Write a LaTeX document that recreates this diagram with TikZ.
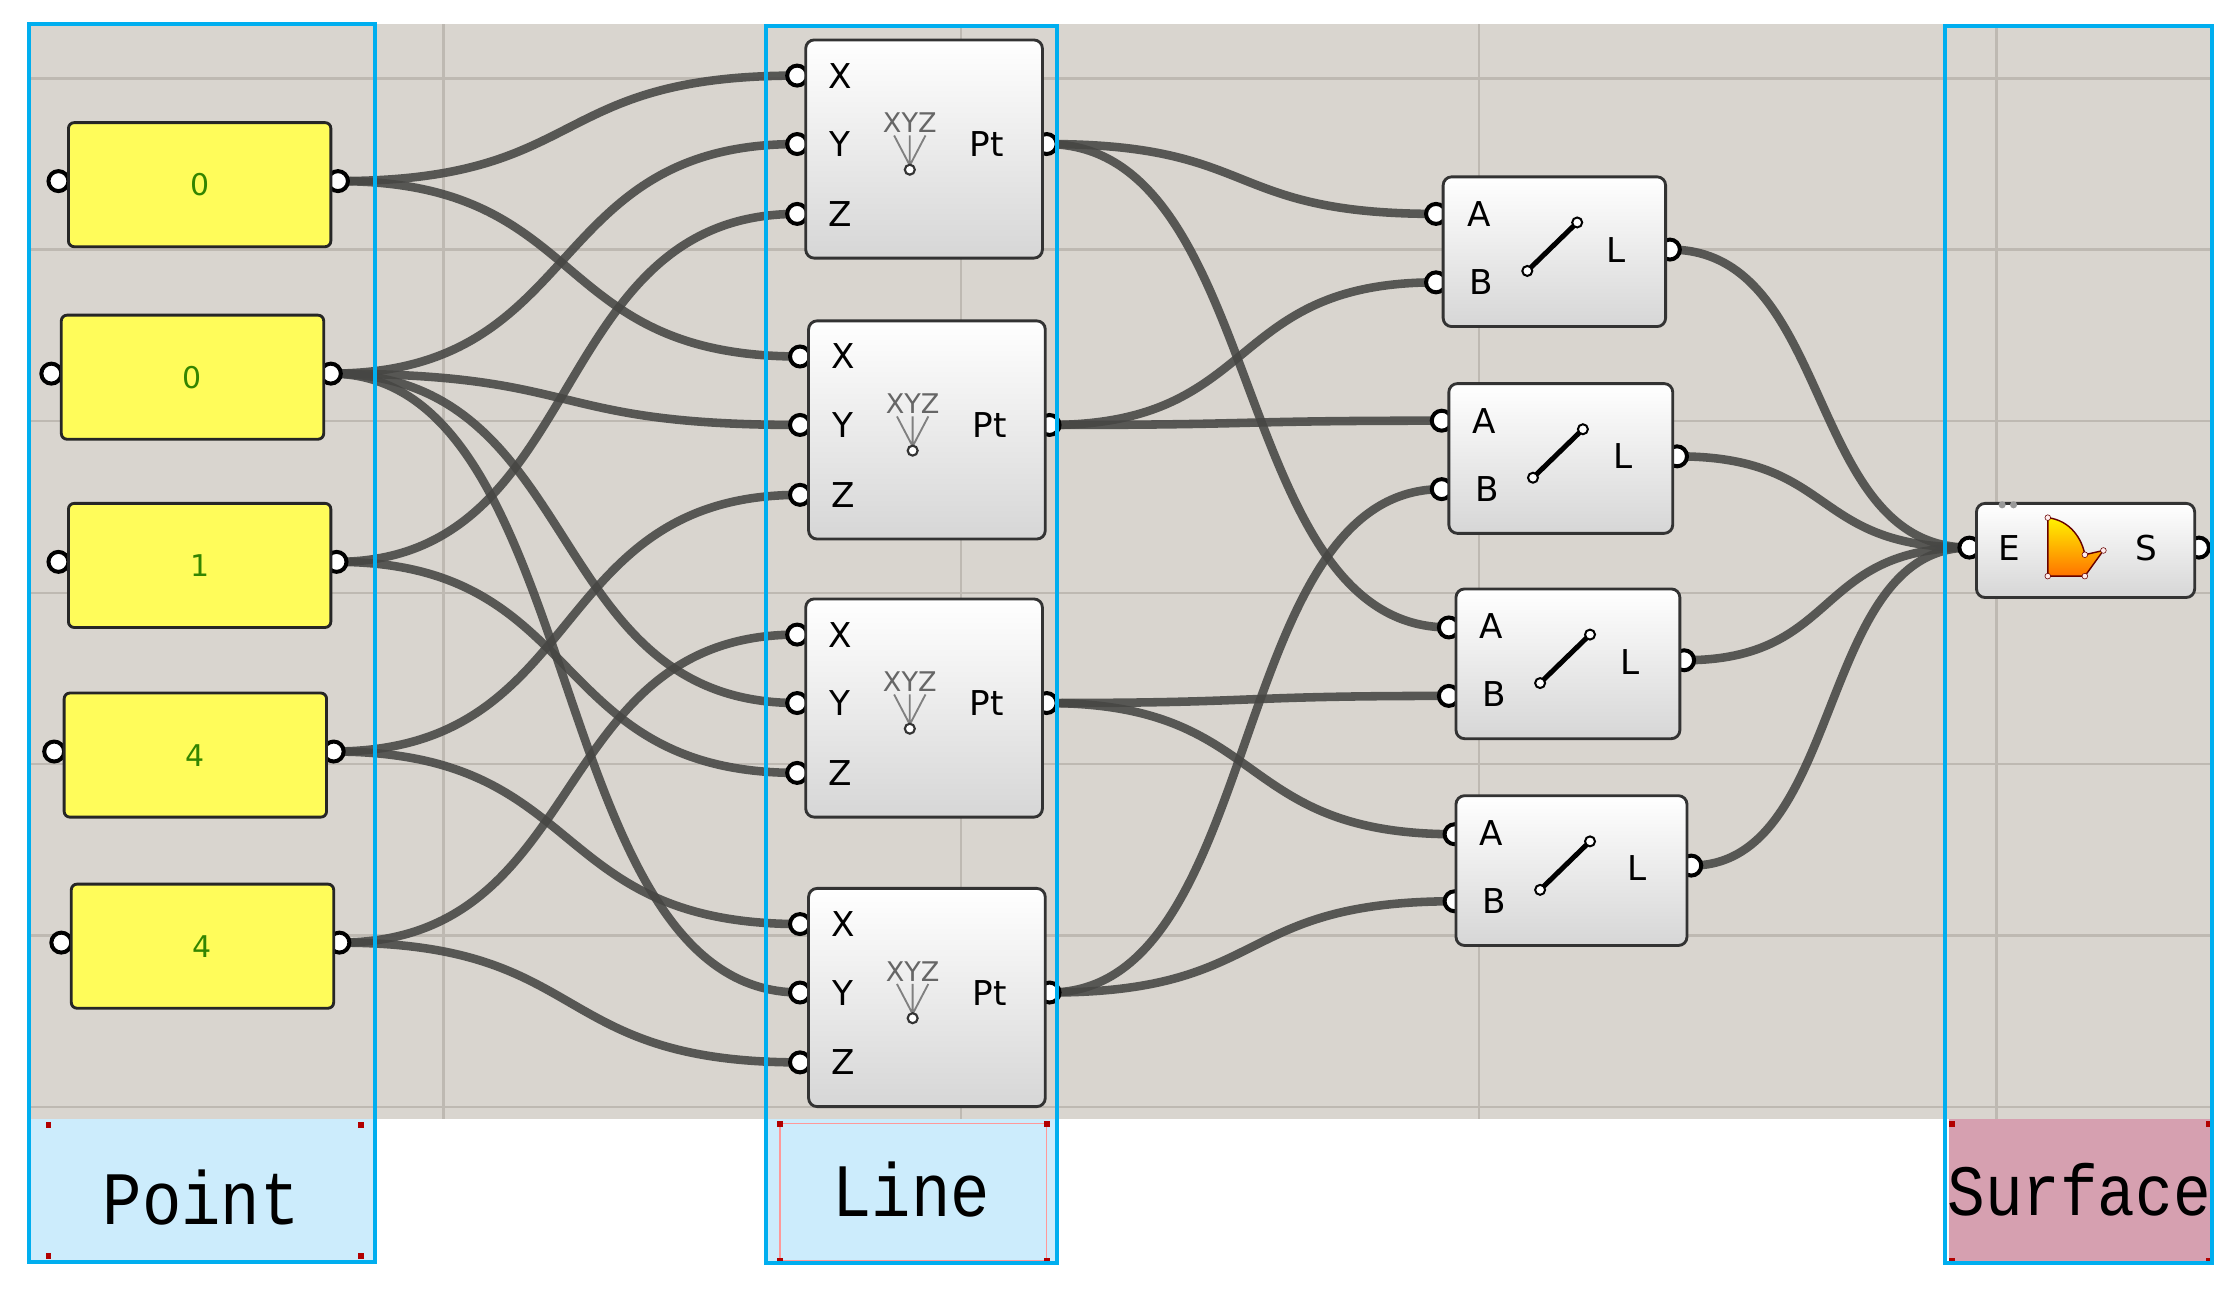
\documentclass[tikz,border=0pt]{standalone}
\usetikzlibrary{calc}
\usepackage{fontspec}
\setmainfont{DejaVu Sans}
\newfontfamily\labfont{Liberation Mono}
\definecolor{canvas}{RGB}{217,213,207}
\definecolor{gridc}{RGB}{190,185,178}
\definecolor{gblue}{RGB}{0,174,239}
\definecolor{lblue}{RGB}{204,236,252}
\definecolor{spink}{RGB}{214,160,176}
\definecolor{wirec}{RGB}{70,70,68}
\definecolor{slidec}{RGB}{255,252,90}
\begin{document}
\begin{tikzpicture}[x=1pt,y=-1pt,
  wire/.style={line width=6, draw=wirec, opacity=0.88},
  port/.style={fill=white, draw=black, line width=2.8},
  slider/.style={draw=black!85, line width=2, rounded corners=4, fill=slidec, anchor=north west, inner sep=0},
  comp/.style={draw=black!80, line width=2, rounded corners=6, top color=white, bottom color=black!16, anchor=north west, inner sep=0},
  blue/.style={draw=gblue, line width=2.8},
  ptxt/.style={font=\fontsize{24}{24}\selectfont},
  mk/.style={fill=red!70!black}]
\useasboundingbox (0,0) rectangle (1568,905);
\fill[white] (0,0) rectangle (1568,905);
% canvas
\fill[canvas] (20,17) rectangle (1552,785);
\foreach \gx in {311,674,1037,1400} \draw[gridc,line width=1.5] (\gx,17) -- (\gx,785);
\foreach \gy in {55,175,295,416,536,656,776} \draw[gridc,line width=1.5] (20,\gy) -- (1552,\gy);
% label areas
\fill[lblue] (20,785) rectangle (263,885);
\fill[lblue] (537,785) rectangle (741,886);
\draw[red!40,line width=1] (547,788) rectangle (734,884);
\fill[spink] (1367,785) rectangle (1551,886);
\foreach \p in {(34,789),(253,789),(34,881),(253,881),(547,788),(734,788),(547,884),(734,884),(1369,788),(1549,788),(1369,884),(1549,884)} \fill[mk] \p ++(-2,-2) rectangle ++(4,4);
% port coordinates
\coordinate (s1o) at (237,127); \coordinate (s1i) at (41,127);
\coordinate (s2o) at (232,262); \coordinate (s2i) at (36,262);
\coordinate (s3o) at (236,394); \coordinate (s3i) at (41,394);
\coordinate (s4o) at (234,527); \coordinate (s4i) at (38,527);
\coordinate (s5o) at (238,661); \coordinate (s5i) at (43,661);
\coordinate (p1x) at (559,53); \coordinate (p1y) at (559,101); \coordinate (p1z) at (559,150); \coordinate (p1o) at (734,101);
\coordinate (p2x) at (561,250); \coordinate (p2y) at (561,298); \coordinate (p2z) at (561,347); \coordinate (p2o) at (736,298);
\coordinate (p3x) at (559,445); \coordinate (p3y) at (559,493); \coordinate (p3z) at (559,542); \coordinate (p3o) at (734,493);
\coordinate (p4x) at (561,648); \coordinate (p4y) at (561,696); \coordinate (p4z) at (561,745); \coordinate (p4o) at (736,696);
\coordinate (l1a) at (1007,150); \coordinate (l1b) at (1007,198); \coordinate (l1o) at (1171,175);
\coordinate (l2a) at (1011,295); \coordinate (l2b) at (1011,343); \coordinate (l2o) at (1176,320);
\coordinate (l3a) at (1016,440); \coordinate (l3b) at (1016,488); \coordinate (l3o) at (1181,463);
\coordinate (l4a) at (1020,585); \coordinate (l4b) at (1020,632); \coordinate (l4o) at (1186,607);
\coordinate (se) at (1381,384); \coordinate (so) at (1542,384);
% wires
\foreach \a/\b in {s1o/p1x,s1o/p2x,s2o/p1y,s2o/p2y,s2o/p3y,s2o/p4y,s3o/p1z,s3o/p3z,s4o/p2z,s4o/p4x,s5o/p3x,s5o/p4z,
  p1o/l1a,p1o/l3a,p2o/l1b,p2o/l2a,p3o/l3b,p3o/l4a,p4o/l2b,p4o/l4b,l1o/se,l2o/se,l3o/se,l4o/se}
  \draw[wire] let \p1=(\a),\p2=(\b),\n1={0.55*abs(\x2-\x1)} in (\a) .. controls +(\n1,0pt) and +(-\n1,0pt) .. (\b);
% ports
\foreach \c in {s1o,s1i,s2o,s2i,s3o,s3i,s4o,s4i,s5o,s5i,p1x,p1y,p1z,p1o,p2x,p2y,p2z,p2o,p3x,p3y,p3z,p3o,p4x,p4y,p4z,p4o,
  l1a,l1b,l1o,l2a,l2b,l2o,l3a,l3b,l3o,l4a,l4b,l4o,se,so}
  \draw[port] (\c) circle (7);
% sliders
\foreach \n/\x/\y/\t in {sl1/47/85/0,sl2/42/220/0,sl3/47/352/1,sl4/44/485/4,sl5/49/619/4}{
  \node[slider,minimum width=184,minimum height=87] (\n) at (\x,\y) {};
  \node[text=green!40!black!80!yellow,font=\fontsize{21}{21}\selectfont] (\n t) at (\n.center) {\t};
}
% point components
\foreach \n/\x/\y in {p1/564/27,p2/566/224,p3/564/419,p4/566/622}{
  \node[comp,minimum width=166,minimum height=153] (\n) at (\x,\y) {};
  \node[ptxt] (\n X) at (\x+25,\y+26) {X};
  \node[ptxt] (\n Y) at (\x+25,\y+74) {Y};
  \node[ptxt] (\n Z) at (\x+25,\y+123) {Z};
  \node[ptxt] (\n P) at (\x+128,\y+74) {Pt};
  \node[text=black!60,font=\fontsize{19}{19}\selectfont] (\n I) at (\x+74,\y+59) {XYZ};
  \draw[black!50,line width=1.3] (\x+63,\y+68) -- (\x+74,\y+89) (\x+74,\y+68) -- (\x+74,\y+89) (\x+85,\y+68) -- (\x+74,\y+89);
  \draw[black!80,line width=1.5,fill=white] (\x+74,\y+92) circle (3.5);
}
% line components
\foreach \n/\x/\y/\w in {l1/1011/123/156,l2/1015/268/157,l3/1020/412/157,l4/1020/557/162}{
  \node[comp,minimum width=\w,minimum height=105] (\n) at (\x,\y) {};
  \node[ptxt] (\n A) at (\x+26,\y+27) {A};
  \node[ptxt] (\n B) at (\x+28,\y+75) {B};
  \node[ptxt] (\n L) at (\x+\w-34,\y+52) {L};
  \draw[black,line width=3.5] (\x+60,\y+67) -- (\x+95,\y+33);
  \draw[black,line width=1.4,fill=white] (\x+60,\y+67) circle (3.5) (\x+95,\y+33) circle (3.5);
}
% surface component
\node[comp,minimum width=153,minimum height=66] (surf) at (1385,352) {};
\node[ptxt] (surfE) at (1409,384) {E};
\node[ptxt] (surfS) at (1505,384) {S};
\fill[black!40] (1404,354) circle (2.5) (1412,354) circle (2.5);
\draw[red!40!black,line width=1,top color=yellow!90!orange,bottom color=orange!90!red]
  (1436,363) .. controls (1452,365) and (1460,378) .. (1462,389) -- (1475,386) -- (1462,404) -- (1436,404) -- cycle;
\foreach \q in {(1436,363),(1462,389),(1475,386),(1462,404),(1436,404)} \draw[red!40!black,fill=white!70!pink] \q circle (2);
% group frames and labels
\draw[blue] (20,17) rectangle (263,885);
\draw[blue] (537,18) rectangle (741,886);
\draw[blue] (1364,18) rectangle (1551,886);
\node[font=\labfont\fontsize{46}{46}\selectfont,yscale=1.15] (lp) at (141,840) {Point};
\node[font=\labfont\fontsize{46}{46}\selectfont,yscale=1.15] (ll) at (639,834) {Line};
\node[font=\labfont\fontsize{44}{44}\selectfont,yscale=1.15] (ls) at (1458,834) {Surface};
\end{tikzpicture}
\end{document}
